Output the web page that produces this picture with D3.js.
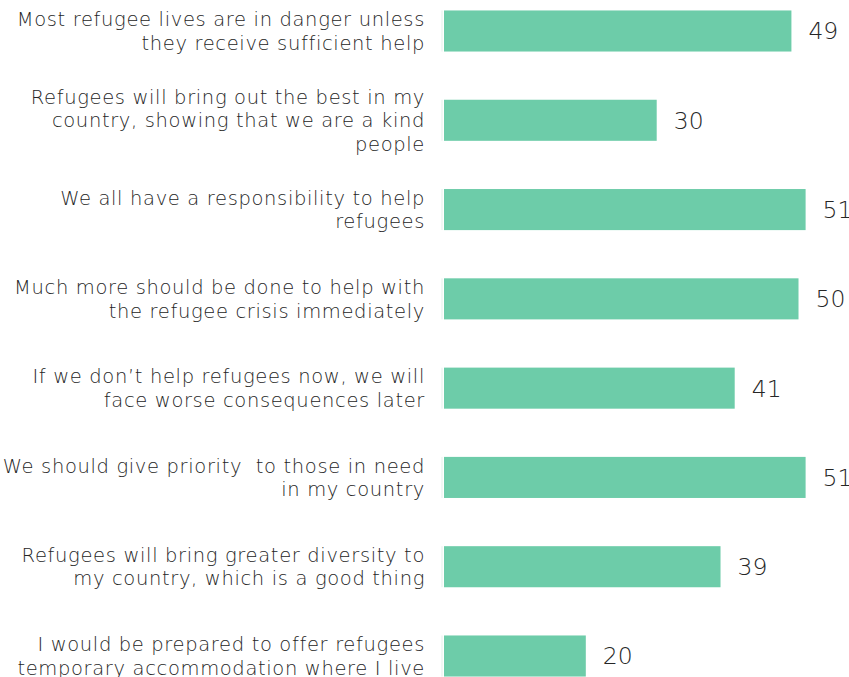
<!DOCTYPE html>
<html>
<head>
<meta charset="utf-8">
<script src="https://cdn.jsdelivr.net/npm/d3@7"></script>
<style>
  html, body { margin: 0; padding: 0; background: #fff; }
  svg { display: block; }
  text { font-family: "DejaVu Sans", "Open Sans", sans-serif; fill: #262626; white-space: pre; }
</style>
</head>
<body>
<svg id="chart" width="849" height="677"></svg>
<script>
// Survey statements (each entry holds the wrapped lines of its label)
const statements = [
  ["Most refugee lives are in danger unless", "they receive sufficient help"],
  ["Refugees will bring out the best in my", "country, showing that we are a kind", "people"],
  ["We all have a responsibility to help", "refugees"],
  ["Much more should be done to help with", "the refugee crisis immediately"],
  ["If we don\u2019t help refugees now, we will", "face worse consequences later"],
  ["We should give priority  to those in need", "in my country"],
  ["Refugees will bring greater diversity to", "my country, which is a good thing"],
  ["I would be prepared to offer refugees", "temporary accommodation where I live"]
];
// Percentage agreeing
const values = [49, 30, 51, 50, 41, 51, 39, 20];

const svg = d3.select("#chart");
const keys = statements.map((d, i) => i);

const y = d3.scaleBand()
  .domain(keys)
  .range([-13.65, 700.65])
  .paddingInner(0.54)
  .paddingOuter(0.27);

const x = d3.scaleLinear()
  .domain([0, 51])
  .range([444, 805.6]);

const barColor = "#6dcca9";

// faint edge line at the base of each bar
svg.append("g").selectAll("rect")
  .data(keys)
  .join("rect")
  .attr("x", x(0) - 2.5)
  .attr("width", 1)
  .attr("y", d => y(d))
  .attr("height", y.bandwidth())
  .attr("fill", "#e3f1ec");

svg.append("g").selectAll("rect")
  .data(keys)
  .join("rect")
  .attr("x", x(0))
  .attr("y", d => y(d))
  .attr("width", d => x(values[d]) - x(0))
  .attr("height", y.bandwidth())
  .attr("fill", barColor);

// value labels
svg.append("g").selectAll("text")
  .data(keys)
  .join("text")
  .attr("x", d => x(values[d]) + 17)
  .attr("y", d => y(d) + y.bandwidth() / 2)
  .attr("dy", "0.36em")
  .attr("font-size", 23.5)
  .attr("font-weight", 300)
  .text(d => values[d]);

// category labels, right aligned and vertically centred on each bar
const lineH = 23.5;
const labels = svg.append("g").selectAll("text")
  .data(keys)
  .join("text")
  .attr("text-anchor", "end")
  .attr("font-size", 19.5)
  .attr("font-weight", 300)
  .attr("letter-spacing", 0.65);

labels.each(function(d) {
  const lines = statements[d];
  const cy = y(d) + y.bandwidth() / 2;
  const start = cy - (lines.length - 1) * lineH / 2;
  d3.select(this).selectAll("tspan")
    .data(lines)
    .join("tspan")
    .attr("x", 425)
    .attr("y", (t, i) => start + i * lineH)
    .attr("dy", "0.36em")
    .text(t => t);
});
</script>
</body>
</html>
